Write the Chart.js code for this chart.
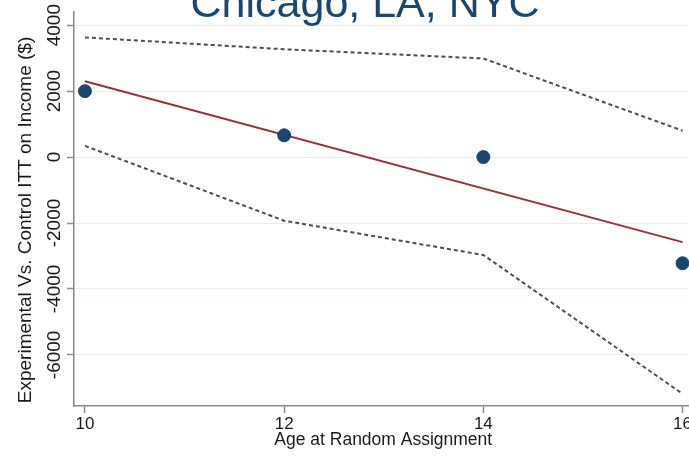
<!DOCTYPE html>
<html>
<head>
<meta charset="utf-8">
<script src="https://cdn.jsdelivr.net/npm/chart.js@4.4.1/dist/chart.umd.min.js"></script>
<style>
  html, body { margin: 0; padding: 0; background: #fff; overflow: hidden; }
  #grafik { position: absolute; left: 0; top: 0; }
</style>
</head>
<body>
<canvas id="grafik" width="700" height="457"></canvas>
<script>
// data
const judul = 'Chicago, LA, NYC';
const judulY = 'Experimental Vs. Control ITT on Income ($)';
const judulX = 'Age at Random Assignment';
const usia = [10, 12, 14, 16];
const nilaiItt = [2000, 660, 0, -3220];
const batasAtas = [3630, 3270, 2990, 800];
const batasBawah = [340, -1930, -2970, -7180];
const usiaFit = [10, 16];
const nilaiFit = [2300, -2580];
const tickX = [10, 12, 14, 16];
const tickY = [-6000, -4000, -2000, 0, 2000, 4000];

const fontUtama = '"Liberation Sans", Arial, sans-serif';
const warnaNavy = '#1a476f';
const warnaSumbu = '#8a8a8a';
const warnaTeks = '#1a1a1a';

function pasangkan(xs, ys) {
  return xs.map((x, i) => ({ x: x, y: ys[i] }));
}

// judul besar di atas (terpotong seperti aslinya) dan judul sumbu Y
const pluginJudul = {
  id: 'judulAtas',
  afterDraw(chart) {
    const ctx = chart.ctx;
    ctx.save();
    ctx.font = '43px ' + fontUtama;
    ctx.fillStyle = warnaNavy;
    ctx.textAlign = 'center';
    ctx.textBaseline = 'alphabetic';
    ctx.fillText(judul, 365, 17);

    ctx.translate(26, 220);
    ctx.rotate(-Math.PI / 2);
    ctx.font = '19px ' + fontUtama;
    ctx.fillStyle = warnaTeks;
    ctx.textBaseline = 'middle';
    ctx.fillText(judulY, 0, 0);
    ctx.restore();
  }
};

const ctx = document.getElementById('grafik').getContext('2d');
new Chart(ctx, {
  type: 'scatter',
  data: {
    datasets: [
      {
        label: 'ITT',
        data: pasangkan(usia, nilaiItt),
        backgroundColor: warnaNavy,
        borderColor: warnaNavy,
        pointRadius: 6.5,
        pointHoverRadius: 6.5,
        order: 0
      },
      {
        label: 'Fit',
        data: pasangkan(usiaFit, nilaiFit),
        showLine: true,
        borderColor: '#90353b',
        borderWidth: 2,
        pointRadius: 0,
        order: 1
      },
      {
        label: 'Upper CI',
        data: pasangkan(usia, batasAtas),
        showLine: true,
        borderColor: '#4d4d4d',
        borderWidth: 2,
        borderDash: [4, 3],
        pointRadius: 0,
        order: 2
      },
      {
        label: 'Lower CI',
        data: pasangkan(usia, batasBawah),
        showLine: true,
        borderColor: '#4d4d4d',
        borderWidth: 2,
        borderDash: [4, 3],
        pointRadius: 0,
        order: 2
      }
    ]
  },
  options: {
    responsive: false,
    animation: false,
    layout: { padding: { top: 12, right: 0, left: 0, bottom: 0 } },
    plugins: {
      legend: { display: false },
      tooltip: { enabled: false }
    },
    scales: {
      x: {
        type: 'linear',
        min: 9.89,
        max: 16.1,
        afterBuildTicks: (axis) => { axis.ticks = tickX.map(v => ({ value: v })); },
        afterFit: (axis) => {
          axis.height = 51;
          axis.paddingLeft = 0;
          axis.paddingRight = 0;
        },
        border: { display: true, color: warnaSumbu, width: 1.5 },
        grid: { drawOnChartArea: false, drawTicks: true, tickLength: 7, tickColor: warnaSumbu, tickWidth: 1.5 },
        ticks: { color: warnaTeks, font: { family: fontUtama, size: 17 }, padding: 1, maxRotation: 0 },
        title: {
          display: true,
          text: judulX,
          color: warnaTeks,
          font: { family: fontUtama, size: 17.5 },
          padding: { top: 0, bottom: 6 }
        }
      },
      y: {
        min: -7550,
        max: 4400,
        afterBuildTicks: (axis) => { axis.ticks = tickY.map(v => ({ value: v })); },
        afterFit: (axis) => { axis.width = 74; },
        border: { display: true, color: warnaSumbu, width: 1.5 },
        grid: { color: '#e8eef0', lineWidth: 1, drawTicks: true, tickLength: 7, tickColor: warnaSumbu, tickWidth: 1.5 },
        ticks: {
          color: warnaTeks,
          font: { family: fontUtama, size: 19 },
          minRotation: 90,
          maxRotation: 90,
          crossAlign: 'center',
          padding: -12,
          callback: (v) => String(v)
        },
        title: { display: false }
      }
    }
  },
  plugins: [pluginJudul]
});
</script>
</body>
</html>
